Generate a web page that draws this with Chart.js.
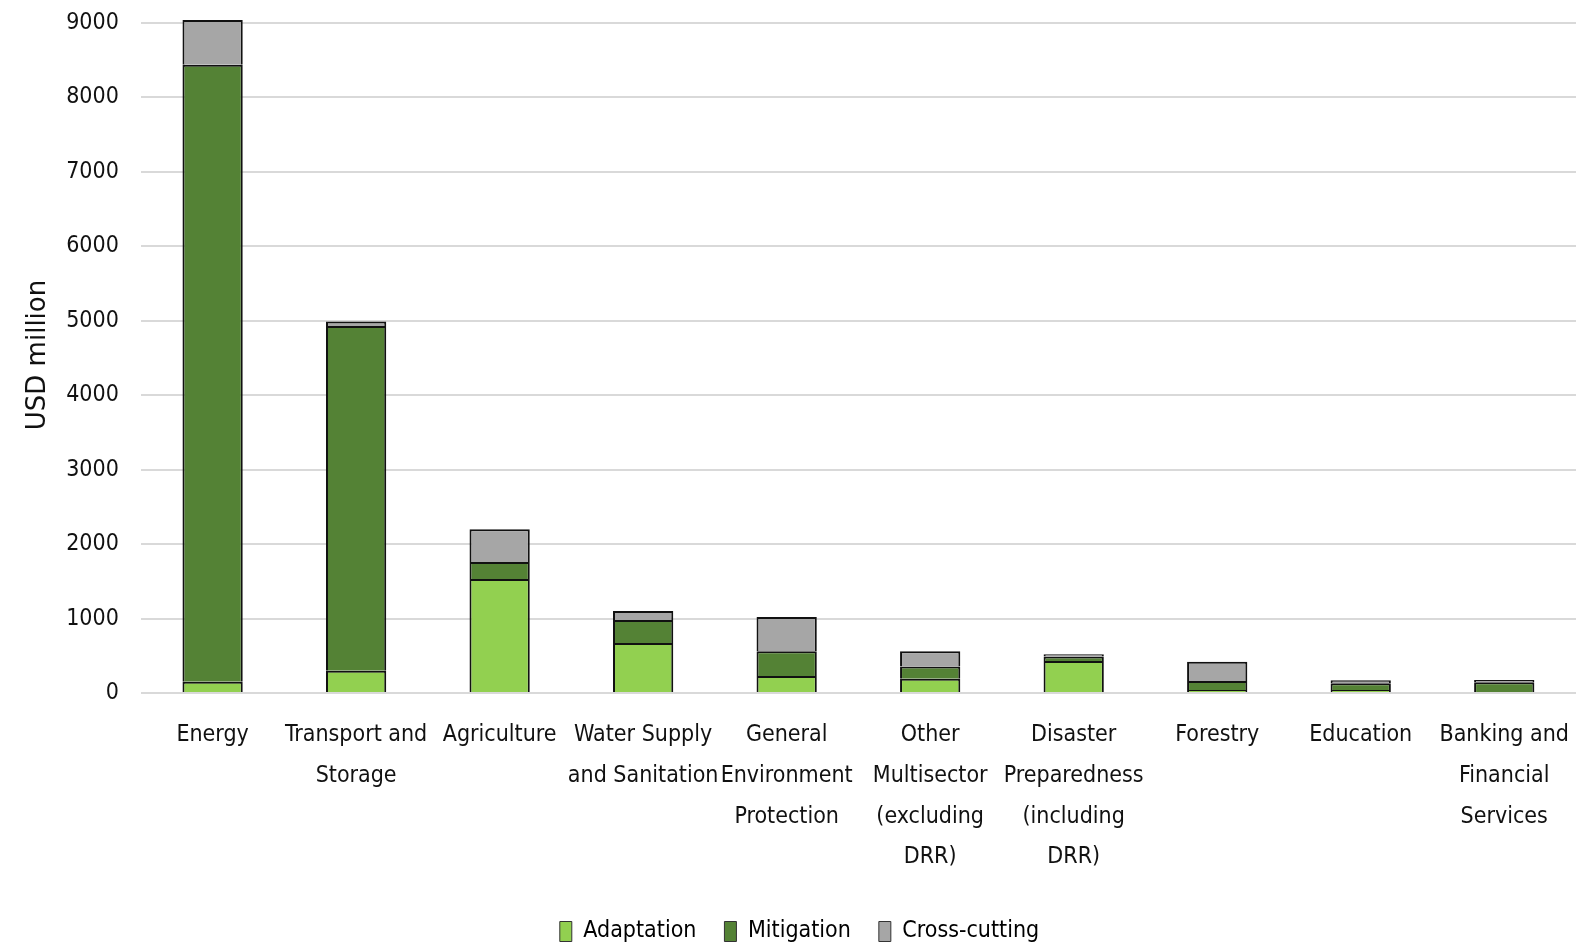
<!DOCTYPE html>
<html>
<head>
<meta charset="utf-8">
<script src="https://cdn.jsdelivr.net/npm/chart.js@4"></script>
<style>
  html, body { margin: 0; padding: 0; background: #fff; }
  #wrap { width: 1588px; height: 945px; }
</style>
</head>
<body>
<div id="wrap"><canvas id="chart"></canvas></div>
<script>
// sectors and USD million per category
const sectors = [
  'Energy',
  ['Transport and', 'Storage'],
  'Agriculture',
  ['Water Supply', 'and Sanitation'],
  ['General', 'Environment', 'Protection'],
  ['Other', 'Multisector', '(excluding', 'DRR)'],
  ['Disaster', 'Preparedness', '(including', 'DRR)'],
  'Forestry',
  'Education',
  ['Banking and', 'Financial', 'Services']
];
const adaptation  = [150, 300, 1530, 670, 230, 190, 430, 40, 40, 15];
const mitigation  = [8290, 4630, 230, 310, 330, 165, 60, 120, 90, 130];
const crossCutting = [600, 60, 440, 120, 460, 205, 30, 260, 40, 30];
const yTicks = [0, 1000, 2000, 3000, 4000, 5000, 6000, 7000, 8000, 9000];

const narrow = "'DejaVu Sans Condensed', 'Liberation Sans Narrow', Roboto, sans-serif";

function serie(label, data, colour) {
  return {
    label: label,
    data: data,
    backgroundColor: colour,
    borderColor: '#111',
    borderWidth: 2,
    barPercentage: 0.42,
    categoryPercentage: 1.0
  };
}

// push the legend a bit lower, closer to the bottom edge like the original
const legendDown = {
  id: 'legendDown',
  afterLayout(chart) {
    chart.legend.top += 8;
    chart.legend.bottom += 8;
  }
};

const ctx = document.getElementById('chart').getContext('2d');
new Chart(ctx, {
  type: 'bar',
  plugins: [legendDown],
  data: {
    labels: sectors,
    datasets: [
      serie('Adaptation', adaptation, '#92D050'),
      serie('Mitigation', mitigation, '#548235'),
      serie('Cross-cutting', crossCutting, '#A6A6A6')
    ]
  },
  options: {
    responsive: true,
    maintainAspectRatio: false,
    animation: false,
    layout: { padding: { top: 17, right: 12, left: 23, bottom: 0 } },
    plugins: {
      tooltip: { enabled: false },
      legend: {
        position: 'bottom',
        labels: {
          font: { family: narrow, size: 23 },
          color: '#111',
          boxWidth: 12,
          boxHeight: 20,
          padding: 28,
          generateLabels: chart => chart.data.datasets.map((ds, i) => ({
            text: ds.label,
            fillStyle: ds.backgroundColor,
            strokeStyle: '#333',
            lineWidth: 1,
            datasetIndex: i
          }))
        }
      }
    },
    scales: {
      x: {
        stacked: true,
        grid: { display: false },
        border: { display: false },
        afterFit: scale => { scale.height = 191; },
        ticks: {
          font: { family: narrow, size: 23, lineHeight: 1.77 },
          color: '#111',
          maxRotation: 0,
          autoSkip: false,
          padding: 14
        }
      },
      y: {
        stacked: true,
        min: 0,
        max: 9080,
        afterBuildTicks: axis => { axis.ticks = yTicks.map(v => ({ value: v })); },
        grid: { color: '#d9d9d9', lineWidth: 2, drawTicks: true, tickLength: 18, tickColor: 'rgba(0,0,0,0)' },
        border: { display: false },
        ticks: {
          font: { family: narrow, size: 23, lineHeight: 0.6 },
          color: '#111',
          padding: 4,
          callback: v => String(v)
        },
        title: {
          display: true,
          text: 'USD million',
          font: { family: "'DejaVu Sans', Verdana, sans-serif", size: 26 },
          color: '#111',
          padding: { top: 0, bottom: 8 }
        }
      }
    }
  }
});
</script>
</body>
</html>
